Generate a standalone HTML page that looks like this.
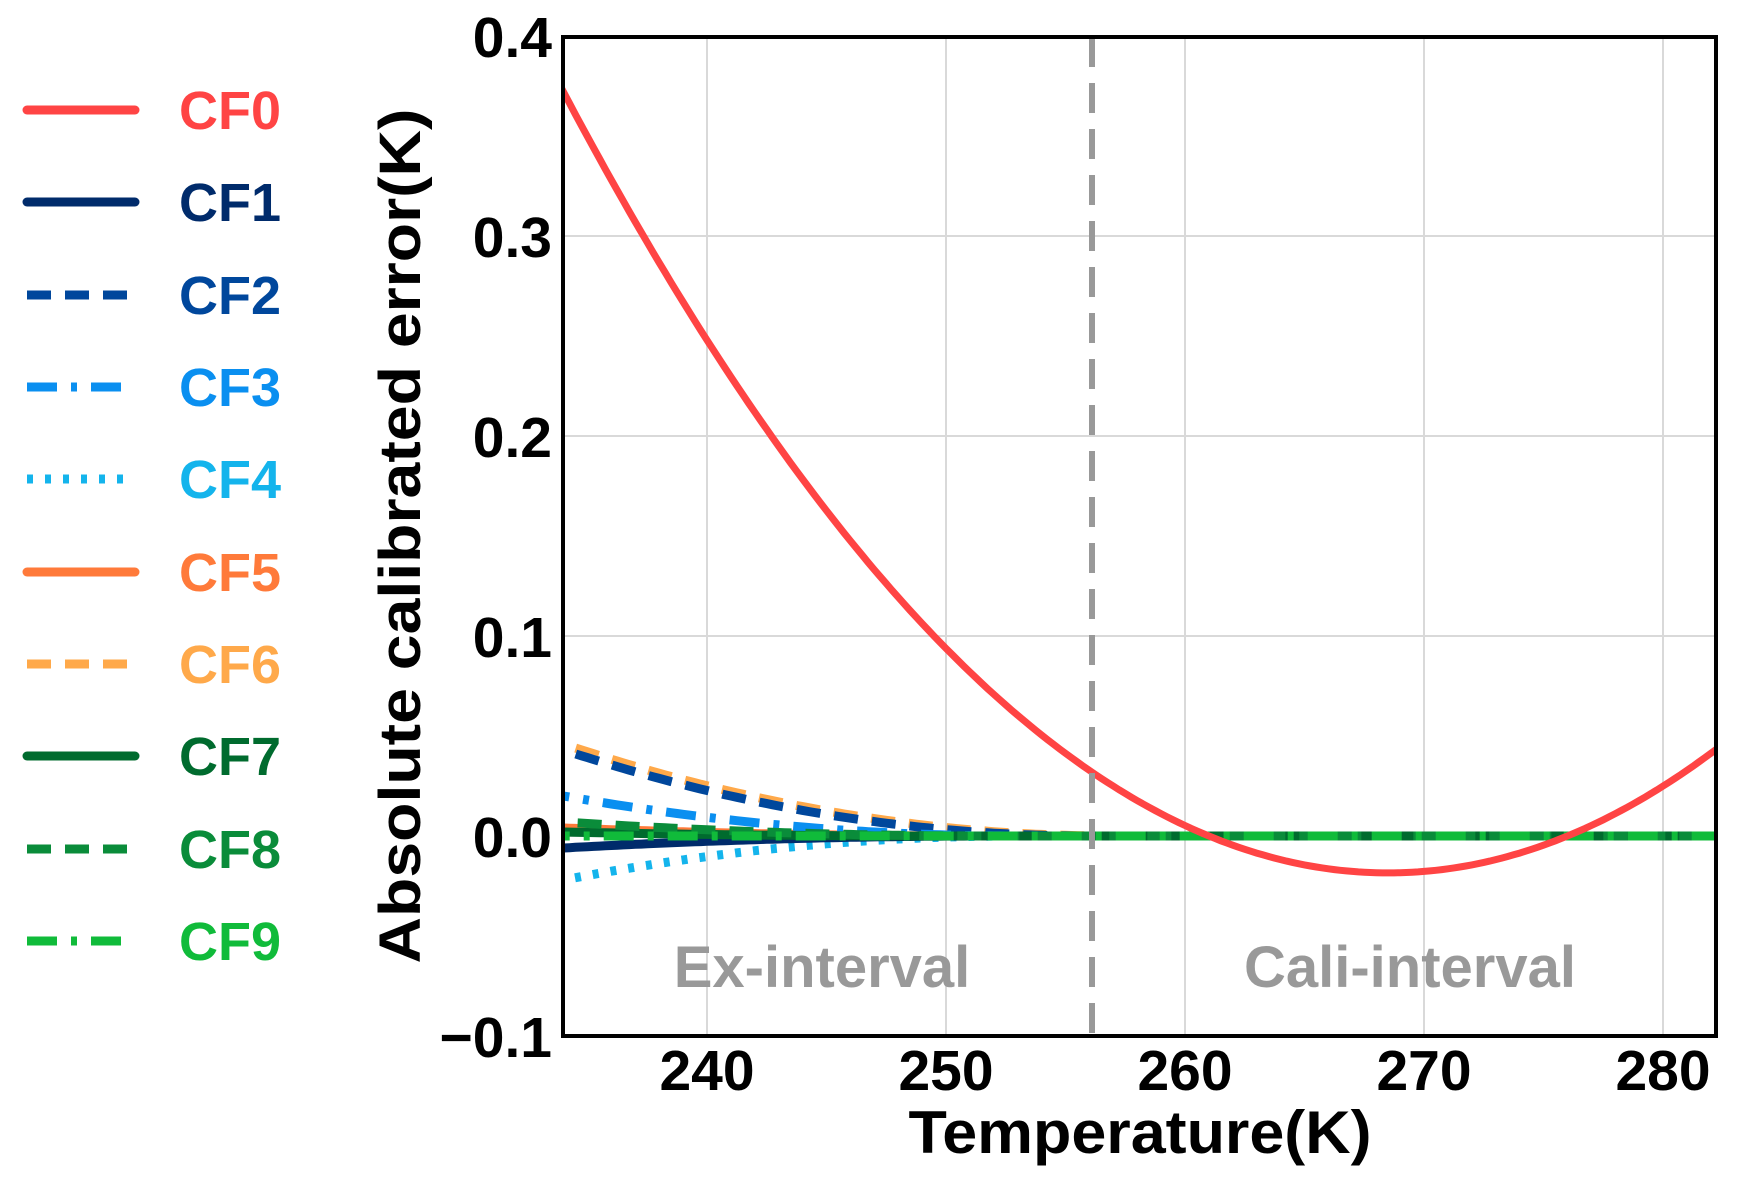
<!DOCTYPE html>
<html><head><meta charset="utf-8"><style>
html,body{margin:0;padding:0;background:#fff}
svg{display:block}
text{font-family:"Liberation Sans",Arial,sans-serif;font-weight:bold}
</style></head><body>
<svg id="s" width="1738" height="1188" viewBox="0 0 1738 1188" xmlns="http://www.w3.org/2000/svg">
<defs><clipPath id="c"><rect x="563" y="37" width="1153" height="999"/></clipPath></defs>
<g id="grid" stroke="#d9d9d9" stroke-width="2"></g>
<g id="curves" clip-path="url(#c)"></g>
<line x1="1092" y1="37" x2="1092" y2="1036" stroke="#999" stroke-width="6" stroke-dasharray="30,16"/>
<text x="822" y="987" font-size="58" fill="#999" text-anchor="middle">Ex-interval</text>
<text x="1410" y="987" font-size="58" fill="#999" text-anchor="middle">Cali-interval</text>
<rect x="563" y="37" width="1153" height="999" fill="none" stroke="#000" stroke-width="4"/>
<g font-size="57" text-anchor="end" fill="#000">
<text x="552" y="57">0.4</text>
<text x="552" y="257">0.3</text>
<text x="552" y="457">0.2</text>
<text x="552" y="657">0.1</text>
<text x="552" y="857">0.0</text>
<text x="552" y="1057">−0.1</text>
</g>
<g font-size="57" text-anchor="middle" fill="#000">
<text x="707" y="1090">240</text>
<text x="946" y="1090">250</text>
<text x="1185" y="1090">260</text>
<text x="1424" y="1090">270</text>
<text x="1663" y="1090">280</text>
</g>
<text x="1140" y="1153" font-size="60" text-anchor="middle" textLength="463" lengthAdjust="spacingAndGlyphs">Temperature(K)</text>
<text transform="translate(420,536) rotate(-90)" font-size="58" text-anchor="middle" textLength="855" lengthAdjust="spacingAndGlyphs">Absolute calibrated error(K)</text>
<g id="legend" font-size="54"></g>
</svg>
<script>
var NS="http://www.w3.org/2000/svg",s=document.getElementById('s');
function X(t){return 707+(t-240)*23.9}
function Y(v){return 836-v*2000}
function el(p,n,a){var e=document.createElementNS(NS,n);for(var k in a)e.setAttribute(k,a[k]);p.appendChild(e);return e}
var g=document.getElementById('grid');
[240,250,260,270,280].forEach(function(t){el(g,'line',{x1:X(t),x2:X(t),y1:37,y2:1036})});
[0.3,0.2,0.1,0].forEach(function(v){el(g,'line',{x1:563,x2:1716,y1:Y(v),y2:Y(v)})});
function decay(a,end){return function(t){return t>=end?0:a*Math.pow((end-t)/(end-234),2)}}
var series=[
["CF0","#ff4444","",function(t){return 0.000328*(t-261)*(t-276)}],
["CF1","#002b6b","",decay(-0.006,252)],
["CF2","#00479c","24,14",decay(0.043,256)],
["CF3","#0a8ff0","30,14,6,14",decay(0.020,253)],
["CF4","#14b4ec","6,12",decay(-0.022,253)],
["CF5","#ff7a3a","",decay(0.004,252)],
["CF6","#ffa94a","24,14",decay(0.046,257)],
["CF7","#006b2e","",decay(0.002,250)],
["CF8","#0a8c3a","24,14",decay(0.007,252)],
["CF9","#10bb3a","30,14,6,14",function(t){return 0}]
];
var cg=document.getElementById('curves');
var order=[5,6,2,3,4,1,7,8,9,0];
order.forEach(function(i){var sr=series[i],d="";
 for(var t=233;t<=283;t+=0.25)d+=(d?"L":"M")+X(t).toFixed(1)+","+Y(sr[3](t)).toFixed(1);
 var a={d:d,fill:"none",stroke:sr[1],"stroke-width":i==0?7:9};
 if(sr[2])a["stroke-dasharray"]=sr[2];
 el(cg,'path',a);
});
var lg=document.getElementById('legend');
var ys=[110,202,295,387,479,572,664,756,849,941];
series.forEach(function(sr,i){
 var a={x1:27,x2:135,y1:ys[i],y2:ys[i],stroke:sr[1],"stroke-width":9,"stroke-linecap":sr[2]?"butt":"round"};
 if(sr[2])a["stroke-dasharray"]=sr[2];
 el(lg,'line',a);
 var t=el(lg,'text',{x:179,y:ys[i]+19,fill:sr[1]});t.textContent=sr[0];
});
</script>
</body></html>
